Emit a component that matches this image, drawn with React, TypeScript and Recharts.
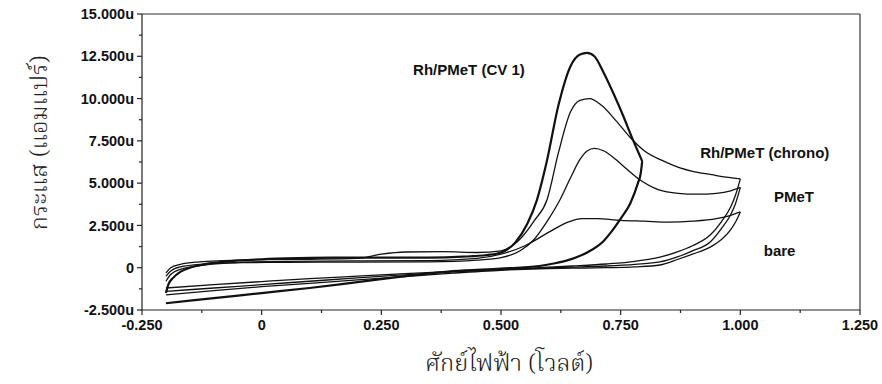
import React from "react";
import { LineChart, Line, XAxis, YAxis, ReferenceLine, ReferenceDot } from "recharts";

// potential (V) and current (uA)
const xTicks = [-0.25, -0.125, 0, 0.125, 0.25, 0.375, 0.5, 0.625, 0.75, 0.875, 1.0, 1.125, 1.25];
const xTickLabels = ["-0.250", "", "0", "", "0.250", "", "0.500", "", "0.750", "", "1.000", "", "1.250"];
const yTicks = [-2.5, -1.25, 0, 1.25, 2.5, 3.75, 5, 6.25, 7.5, 8.75, 10, 11.25, 12.5, 13.75, 15];
const yTickLabels = ["-2.500u", "", "0", "", "2.500u", "", "5.000u", "", "7.500u", "", "10.000u", "", "12.500u", "", "15.000u"];

// Rh/PMeT (CV 1) - switched at ~0.8 V
const cv1FwdV = [-0.2, -0.195, -0.185, -0.17, -0.15, -0.12, -0.08, -0.03, 0.05, 0.15, 0.25, 0.35, 0.42, 0.47, 0.5, 0.53, 0.555, 0.575, 0.595, 0.62, 0.645, 0.665, 0.68, 0.695, 0.715, 0.735, 0.755, 0.775, 0.795];
const cv1FwdI = [-1.5, -1.0, -0.6, -0.25, 0.0, 0.2, 0.35, 0.45, 0.55, 0.6, 0.6, 0.6, 0.65, 0.75, 0.9, 1.5, 2.6, 4.0, 6.2, 9.6, 11.9, 12.6, 12.7, 12.5, 11.5, 10.3, 9.0, 7.6, 6.3];
const cv1RevV = [0.795, 0.792, 0.786, 0.77, 0.75, 0.73, 0.715, 0.68, 0.64, 0.61, 0.58, 0.5, 0.4, 0.3, 0.2, 0.1, 0, -0.1, -0.2];
const cv1RevI = [6.3, 5.6, 5.0, 3.8, 2.9, 2.1, 1.6, 0.9, 0.45, 0.25, 0.1, -0.05, -0.2, -0.5, -0.85, -1.2, -1.5, -1.8, -2.1];

// Rh/PMeT (chrono)
const chronoFwdV = [-0.2, -0.19, -0.17, -0.13, -0.08, 0, 0.1, 0.2, 0.25, 0.3, 0.38, 0.45, 0.5, 0.54, 0.57, 0.596, 0.62, 0.645, 0.665, 0.685, 0.71, 0.74, 0.77, 0.8, 0.84, 0.874, 0.9, 0.94, 0.97, 1.0];
const chronoFwdI = [-0.3, 0.0, 0.2, 0.35, 0.42, 0.48, 0.5, 0.55, 0.8, 0.93, 0.95, 0.9, 1.0, 1.7, 2.8, 4.0, 6.8, 9.2, 9.9, 10.0, 9.6, 8.7, 7.7, 6.9, 6.3, 5.9, 5.7, 5.5, 5.35, 5.25];
const chronoRevV = [1.0, 0.99, 0.98, 0.96, 0.937, 0.9, 0.87, 0.832, 0.78, 0.72, 0.65, 0.58, 0.5, 0.4, 0.3, 0.2, 0.1, 0, -0.1, -0.2];
const chronoRevI = [5.25, 4.3, 3.6, 2.7, 1.93, 1.3, 0.95, 0.63, 0.38, 0.22, 0.1, 0.0, -0.1, -0.22, -0.35, -0.5, -0.65, -0.82, -1.0, -1.2];

// PMeT
const pmetFwdV = [-0.2, -0.19, -0.17, -0.12, -0.05, 0.05, 0.2, 0.35, 0.45, 0.5, 0.54, 0.57, 0.6, 0.623, 0.645, 0.665, 0.68, 0.695, 0.715, 0.74, 0.76, 0.79, 0.83, 0.87, 0.91, 0.95, 0.98, 1.0];
const pmetFwdI = [-0.5, -0.2, 0.05, 0.22, 0.3, 0.32, 0.33, 0.35, 0.45, 0.6, 1.0, 1.7, 2.9, 4.0, 5.3, 6.4, 6.9, 7.05, 6.9, 6.4, 5.9, 5.2, 4.6, 4.4, 4.35, 4.4, 4.55, 4.75];
const pmetRevV = chronoRevV;
const pmetRevI = [4.75, 3.8, 3.15, 2.3, 1.52, 1.0, 0.65, 0.34, 0.2, 0.1, 0.03, -0.02, -0.1, -0.25, -0.42, -0.6, -0.8, -1.0, -1.2, -1.4];

// bare
const bareFwdV = [-0.2, -0.19, -0.17, -0.12, -0.05, 0.05, 0.2, 0.35, 0.45, 0.5, 0.55, 0.6, 0.64, 0.67, 0.7, 0.75, 0.8, 0.85, 0.9, 0.95, 0.98, 1.0];
const bareFwdI = [-0.8, -0.4, -0.1, 0.15, 0.3, 0.38, 0.4, 0.42, 0.55, 0.8, 1.3, 2.1, 2.7, 2.9, 2.9, 2.8, 2.75, 2.7, 2.75, 2.9, 3.1, 3.3];
const bareRevV = chronoRevV;
const bareRevI = [3.3, 2.7, 2.25, 1.65, 1.22, 0.8, 0.5, 0.16, 0.05, 0.0, -0.03, -0.06, -0.15, -0.32, -0.52, -0.72, -0.92, -1.12, -1.35, -1.6];

const zip = (vs: number[], is: number[]) => vs.map((v, k) => ({ v, i: is[k] }));

const branches = [
  { key: "cv1f", data: zip(cv1FwdV, cv1FwdI), w: 2.2 },
  { key: "cv1r", data: zip(cv1RevV, cv1RevI), w: 2.2 },
  { key: "chf", data: zip(chronoFwdV, chronoFwdI), w: 1.3 },
  { key: "chr", data: zip(chronoRevV, chronoRevI), w: 1.3 },
  { key: "pmf", data: zip(pmetFwdV, pmetFwdI), w: 1.3 },
  { key: "pmr", data: zip(pmetRevV, pmetRevI), w: 1.3 },
  { key: "baf", data: zip(bareFwdV, bareFwdI), w: 1.3 },
  { key: "bar", data: zip(bareRevV, bareRevI), w: 1.3 },
];

const notes = [
  { text: "Rh/PMeT (CV 1)", v: 0.433, i: 11.7 },
  { text: "Rh/PMeT (chrono)", v: 1.051, i: 6.79 },
  { text: "PMeT", v: 1.112, i: 4.18 },
  { text: "bare", v: 1.082, i: 0.99 },
];

const tickFont = { fontFamily: "'Liberation Sans', Arial, sans-serif", fontWeight: 700, fontSize: 14.5, fill: "#111" };

const XTick = (props: any) => {
  const { x, y, payload } = props;
  const label = xTickLabels[xTicks.indexOf(payload.value)];
  const major = label !== "";
  return (
    <g>
      <line x1={x} x2={x} y1={y} y2={y + (major ? 5 : 3)} stroke="#222" strokeWidth={1.2} />
      {major && (
        <text x={x} y={y + 10} dy="0.71em" textAnchor="middle" {...tickFont}>
          {label}
        </text>
      )}
    </g>
  );
};

const YTick = (props: any) => {
  const { x, y, payload } = props;
  const label = yTickLabels[yTicks.indexOf(payload.value)];
  const major = label !== "";
  return (
    <g>
      <line x1={x - (major ? 5 : 3)} x2={x} y1={y} y2={y} stroke="#222" strokeWidth={1.2} />
      {major && (
        <text x={x - 8} y={y} dy="0.35em" textAnchor="end" {...tickFont}>
          {label}
        </text>
      )}
    </g>
  );
};

const thaiFont = "'Noto Serif Thai', 'Norasi', 'Tlwg Typo', serif";

export default function App() {
  return (
    <div style={{ position: "absolute", left: 0, top: 0, width: 882, height: 384, background: "#fff" }}>
      <LineChart width={882} height={384} margin={{ top: 14, right: 22, left: 0, bottom: 0 }}>
        <XAxis
          type="number"
          dataKey="v"
          domain={[-0.25, 1.25]}
          ticks={xTicks}
          interval={0}
          height={74}
          tickSize={0}
          tickMargin={0}
          tickLine={false}
          tick={<XTick />}
          axisLine={{ stroke: "#222", strokeWidth: 1.2 }}
        />
        <YAxis
          type="number"
          domain={[-2.5, 15]}
          ticks={yTicks}
          interval={0}
          width={142}
          tickSize={0}
          tickMargin={0}
          tickLine={false}
          tick={<YTick />}
          axisLine={{ stroke: "#222", strokeWidth: 1.2 }}
        />
        <ReferenceLine y={15} stroke="#333" strokeWidth={1.2} />
        <ReferenceLine x={1.25} stroke="#333" strokeWidth={1.2} />
        {branches.map((b) => (
          <Line
            key={b.key}
            data={b.data}
            dataKey="i"
            type="monotone"
            stroke="#111"
            strokeWidth={b.w}
            dot={false}
            activeDot={false}
            isAnimationActive={false}
          />
        ))}
        {notes.map((n) => (
          <ReferenceDot
            key={n.text}
            x={n.v}
            y={n.i}
            r={0}
            stroke="none"
            fill="none"
            label={{
              value: n.text,
              position: "center",
              fill: "#111",
              fontSize: 15,
              fontWeight: 700,
              fontFamily: "'Liberation Sans', Arial, sans-serif",
            }}
          />
        ))}
      </LineChart>
      <div
        style={{
          position: "absolute",
          left: 40,
          top: 143,
          transform: "translate(-50%, -50%) rotate(-90deg)",
          whiteSpace: "nowrap",
          fontFamily: thaiFont,
          fontSize: 24,
          fontWeight: 300,
          color: "#222",
        }}
      >
        กระแส (แอมแปร์)
      </div>
      <div
        style={{
          position: "absolute",
          left: 509,
          top: 364,
          transform: "translate(-50%, -50%)",
          whiteSpace: "nowrap",
          fontFamily: thaiFont,
          fontSize: 24,
          fontWeight: 300,
          color: "#222",
        }}
      >
        ศักย์ไฟฟ้า (โวลต์)
      </div>
    </div>
  );
}
